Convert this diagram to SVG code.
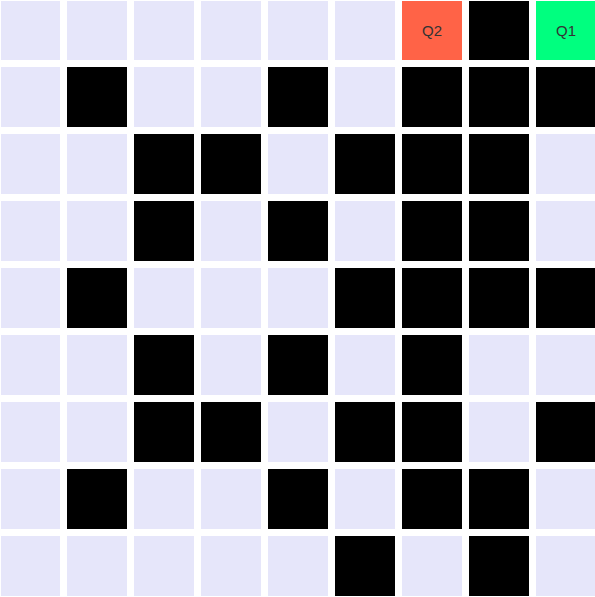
<svg xmlns="http://www.w3.org/2000/svg" width="595" height="597" viewBox="0 0 595 597">
<style>
.c{fill:#E6E6FA}
.b{fill:#000}
.t{font-family:"Liberation Sans",Arial,sans-serif;font-size:15px;fill:#333;text-anchor:middle;dominant-baseline:central}
</style>
<rect width="595" height="597" fill="#fff"/>
<g id="grid">
<g id="r0">
<rect class="c" x="1" y="1" width="59" height="59"/><rect class="c" x="67" y="1" width="60" height="59"/><rect class="c" x="134" y="1" width="60" height="59"/><rect class="c" x="201" y="1" width="60" height="59"/><rect class="c" x="268" y="1" width="60" height="59"/><rect class="c" x="335" y="1" width="60" height="59"/>
<g id="Q2"><rect x="402" y="1" width="60" height="59" fill="#FF6347"/><text class="t" x="432" y="30">Q2</text></g>
<rect class="b" x="469" y="1" width="60" height="59"/>
<g id="Q1"><rect x="536" y="1" width="60" height="59" fill="#00FF7F"/><text class="t" x="566" y="30">Q1</text></g>
</g>
<g id="r1">
<rect class="c" x="1" y="67" width="59" height="60"/><rect class="b" x="67" y="67" width="60" height="60"/><rect class="c" x="134" y="67" width="60" height="60"/><rect class="c" x="201" y="67" width="60" height="60"/><rect class="b" x="268" y="67" width="60" height="60"/><rect class="c" x="335" y="67" width="60" height="60"/><rect class="b" x="402" y="67" width="60" height="60"/><rect class="b" x="469" y="67" width="60" height="60"/><rect class="b" x="536" y="67" width="60" height="60"/>
</g>
<g id="r2">
<rect class="c" x="1" y="134" width="59" height="60"/><rect class="c" x="67" y="134" width="60" height="60"/><rect class="b" x="134" y="134" width="60" height="60"/><rect class="b" x="201" y="134" width="60" height="60"/><rect class="c" x="268" y="134" width="60" height="60"/><rect class="b" x="335" y="134" width="60" height="60"/><rect class="b" x="402" y="134" width="60" height="60"/><rect class="b" x="469" y="134" width="60" height="60"/><rect class="c" x="536" y="134" width="60" height="60"/>
</g>
<g id="r3">
<rect class="c" x="1" y="201" width="59" height="60"/><rect class="c" x="67" y="201" width="60" height="60"/><rect class="b" x="134" y="201" width="60" height="60"/><rect class="c" x="201" y="201" width="60" height="60"/><rect class="b" x="268" y="201" width="60" height="60"/><rect class="c" x="335" y="201" width="60" height="60"/><rect class="b" x="402" y="201" width="60" height="60"/><rect class="b" x="469" y="201" width="60" height="60"/><rect class="c" x="536" y="201" width="60" height="60"/>
</g>
<g id="r4">
<rect class="c" x="1" y="268" width="59" height="60"/><rect class="b" x="67" y="268" width="60" height="60"/><rect class="c" x="134" y="268" width="60" height="60"/><rect class="c" x="201" y="268" width="60" height="60"/><rect class="c" x="268" y="268" width="60" height="60"/><rect class="b" x="335" y="268" width="60" height="60"/><rect class="b" x="402" y="268" width="60" height="60"/><rect class="b" x="469" y="268" width="60" height="60"/><rect class="b" x="536" y="268" width="60" height="60"/>
</g>
<g id="r5">
<rect class="c" x="1" y="335" width="59" height="60"/><rect class="c" x="67" y="335" width="60" height="60"/><rect class="b" x="134" y="335" width="60" height="60"/><rect class="c" x="201" y="335" width="60" height="60"/><rect class="b" x="268" y="335" width="60" height="60"/><rect class="c" x="335" y="335" width="60" height="60"/><rect class="b" x="402" y="335" width="60" height="60"/><rect class="c" x="469" y="335" width="60" height="60"/><rect class="c" x="536" y="335" width="60" height="60"/>
</g>
<g id="r6">
<rect class="c" x="1" y="402" width="59" height="60"/><rect class="c" x="67" y="402" width="60" height="60"/><rect class="b" x="134" y="402" width="60" height="60"/><rect class="b" x="201" y="402" width="60" height="60"/><rect class="c" x="268" y="402" width="60" height="60"/><rect class="b" x="335" y="402" width="60" height="60"/><rect class="b" x="402" y="402" width="60" height="60"/><rect class="c" x="469" y="402" width="60" height="60"/><rect class="b" x="536" y="402" width="60" height="60"/>
</g>
<g id="r7">
<rect class="c" x="1" y="469" width="59" height="60"/><rect class="b" x="67" y="469" width="60" height="60"/><rect class="c" x="134" y="469" width="60" height="60"/><rect class="c" x="201" y="469" width="60" height="60"/><rect class="b" x="268" y="469" width="60" height="60"/><rect class="c" x="335" y="469" width="60" height="60"/><rect class="b" x="402" y="469" width="60" height="60"/><rect class="b" x="469" y="469" width="60" height="60"/><rect class="c" x="536" y="469" width="60" height="60"/>
</g>
<g id="r8">
<rect class="c" x="1" y="536" width="59" height="60"/><rect class="c" x="67" y="536" width="60" height="60"/><rect class="c" x="134" y="536" width="60" height="60"/><rect class="c" x="201" y="536" width="60" height="60"/><rect class="c" x="268" y="536" width="60" height="60"/><rect class="b" x="335" y="536" width="60" height="60"/><rect class="c" x="402" y="536" width="60" height="60"/><rect class="b" x="469" y="536" width="60" height="60"/><rect class="c" x="536" y="536" width="60" height="60"/>
</g>
</g>
<g id="connectors"/>
</svg>
